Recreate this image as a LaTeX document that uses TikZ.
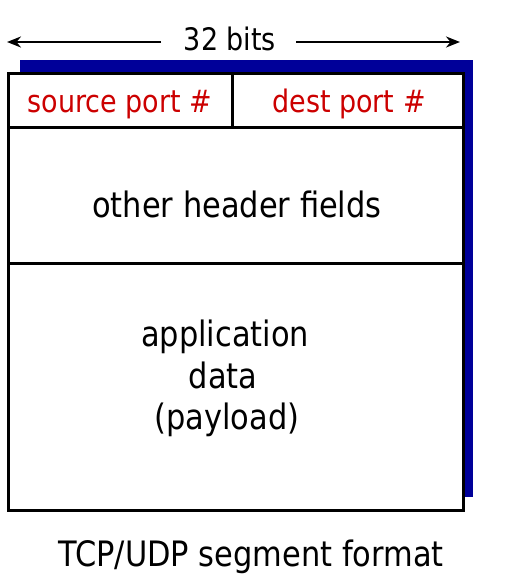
\documentclass[tikz,border=0pt]{standalone}
\usepackage{fontspec}
\setmainfont{DejaVu Sans}[FakeStretch=0.87]
\usetikzlibrary{arrows.meta}
\definecolor{shadowblue}{HTML}{000099}
\definecolor{portred}{HTML}{CC0000}
\begin{document}
\begin{tikzpicture}[x=1pt,y=-1pt,
  boxline/.style={draw=black,line width=3pt},
  lbl/.style={font=\fontsize{35}{42}\selectfont,inner sep=0pt,anchor=base},
  smalllbl/.style={lbl,font=\fontsize{31}{37}\selectfont},
  portlbl/.style={smalllbl,text=portred},
  dimarrow/.style={line width=2.2pt,-{Stealth[length=14pt,width=11pt]}}]
\useasboundingbox (0,0) rectangle (507,586);
\fill[shadowblue] (20,60) rectangle (473,497);
\filldraw[fill=white,boxline] (8,73) rectangle (463,510);
\draw[boxline] (8,127) -- (463,127);
\draw[boxline] (8,263) -- (463,263);
\draw[boxline] (232,73) -- (232,127);
\node[smalllbl] (bits) at (230,51) {32 bits};
\coordinate (lefttip) at (7,42);
\coordinate (righttip) at (460,42);
\draw[dimarrow] (161,42) -- (lefttip);
\draw[dimarrow] (296,42) -- (righttip);
\node[portlbl] (src) at (120,112) {source port \#};
\node[portlbl] (dst) at (349,112) {dest port \#};
\node[lbl] (other) at (237,217) {other header fields};
\node[lbl] (app1) at (225,346) {application};
\node[lbl] (app2) at (223,388) {data};
\node[lbl] (app3) at (227,429) {(payload)};
\node[lbl] (caption) at (251,566) {TCP/UDP segment format};
\end{tikzpicture}
\end{document}
